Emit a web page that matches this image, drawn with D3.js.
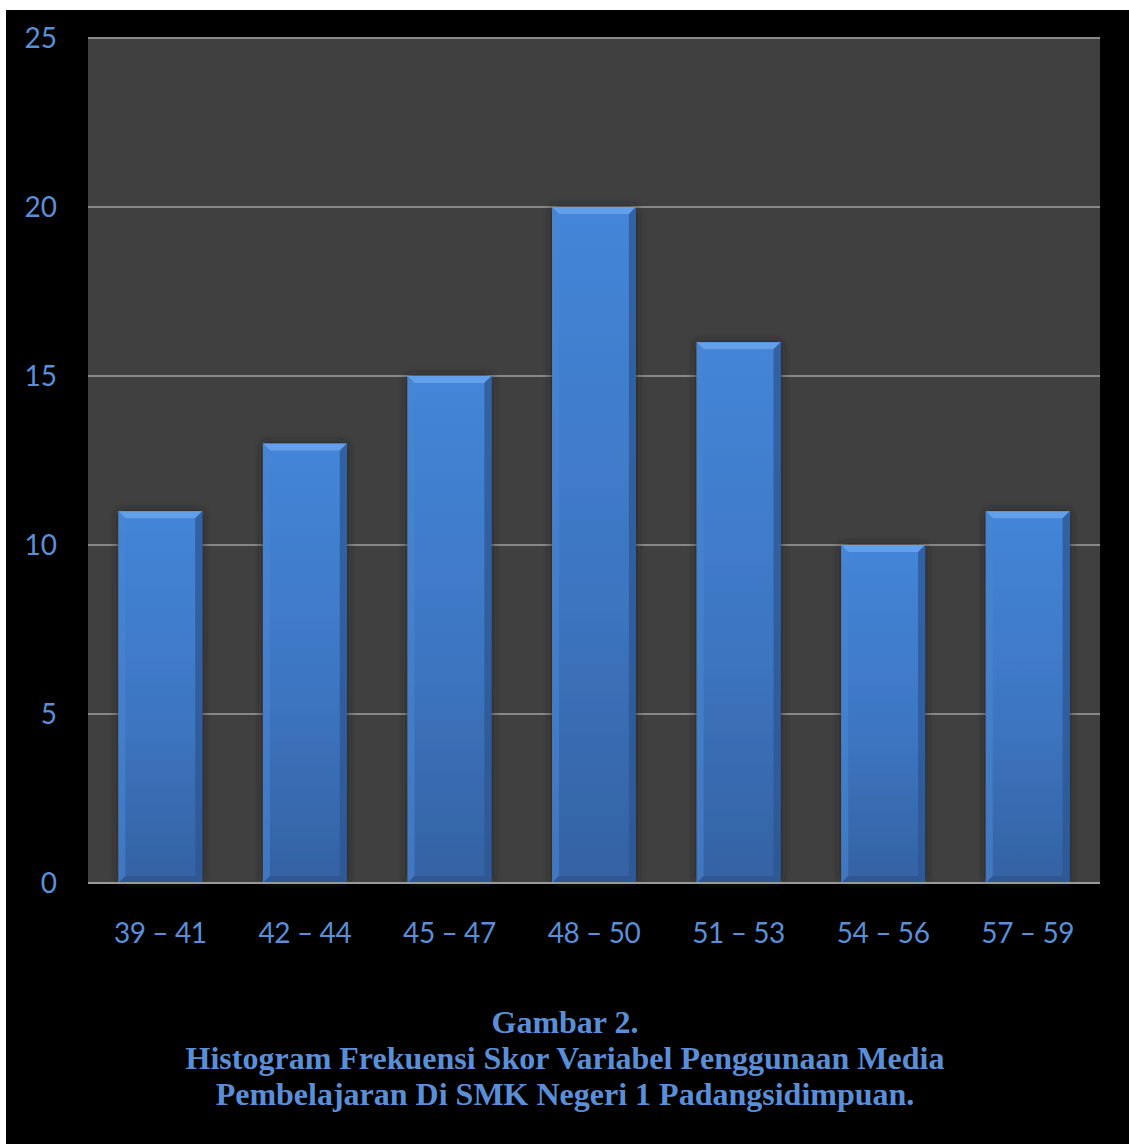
<!DOCTYPE html>
<html>
<head>
<meta charset="utf-8">
<script src="https://cdn.jsdelivr.net/npm/d3@7"></script>
<style>
  html, body { margin: 0; padding: 0; background: #ffffff; }
  svg { display: block; }
</style>
</head>
<body>
<script>
// Score intervals and their frequencies
const categories = ["39 – 41", "42 – 44", "45 – 47", "48 – 50", "51 – 53", "54 – 56", "57 – 59"];
const frequencies = [11, 13, 15, 20, 16, 10, 11];
const yTicks = [0, 5, 10, 15, 20, 25];
const captionLines = [
  "Gambar 2.",
  "Histogram Frekuensi Skor Variabel Penggunaan Media",
  "Pembelajaran Di SMK Negeri 1 Padangsidimpuan."
];

const W = 1129, H = 1144;
const plot = { left: 88, right: 1100, top: 38, bottom: 883 };
const blue = "#5a8fd8";

const svg = d3.select("body").append("svg").attr("width", W).attr("height", H);

// black panel with a thin white margin at top/left
svg.append("rect").attr("x", 0).attr("y", 0).attr("width", W).attr("height", H).attr("fill", "#ffffff");
svg.append("rect").attr("x", 6).attr("y", 10).attr("width", W - 6).attr("height", H - 10).attr("fill", "#000000");

const defs = svg.append("defs");
const grad = defs.append("linearGradient").attr("id", "barFill")
  .attr("x1", 0).attr("y1", 0).attr("x2", 0).attr("y2", 1);
grad.append("stop").attr("offset", "0%").attr("stop-color", "#4485d8");
grad.append("stop").attr("offset", "55%").attr("stop-color", "#3d76c2");
grad.append("stop").attr("offset", "100%").attr("stop-color", "#3462a3");

const shadow = defs.append("filter").attr("id", "barShadow")
  .attr("x", "-30%").attr("y", "-10%").attr("width", "160%").attr("height", "120%");
shadow.append("feGaussianBlur").attr("in", "SourceAlpha").attr("stdDeviation", 4).attr("result", "b");
shadow.append("feFlood").attr("flood-color", "#1e1e1e").attr("flood-opacity", 0.9);
shadow.append("feComposite").attr("in2", "b").attr("operator", "in").attr("result", "s");
const merge = shadow.append("feMerge");
merge.append("feMergeNode").attr("in", "s");
merge.append("feMergeNode").attr("in", "SourceGraphic");

const x = d3.scaleBand().domain(categories).range([plot.left, plot.right]).paddingInner(0.42).paddingOuter(0.21);
const y = d3.scaleLinear().domain([0, 25]).range([plot.bottom, plot.top]);

// plot background
svg.append("rect").attr("x", plot.left).attr("y", plot.top)
  .attr("width", plot.right - plot.left).attr("height", plot.bottom - plot.top)
  .attr("fill", "#404040");

// gridlines
svg.append("g").selectAll("line").data(yTicks.filter(d => d > 0)).join("line")
  .attr("x1", plot.left).attr("x2", plot.right)
  .attr("y1", d => y(d)).attr("y2", d => y(d))
  .attr("stroke", "#888888").attr("stroke-width", 2);

// bars with bevelled edges
const bars = svg.append("g").selectAll("g").data(frequencies).join("g")
  .attr("transform", (d, i) => `translate(${x(categories[i])},${y(d)})`);

const bw = x.bandwidth();
const bev = 7;
bars.append("rect")
  .attr("width", bw).attr("height", d => y(0) - y(d))
  .attr("fill", "url(#barFill)").attr("filter", "url(#barShadow)");
// top bevel
bars.append("path")
  .attr("d", `M0,0 L${bw},0 L${bw - bev},${bev} L${bev},${bev} Z`)
  .attr("fill", "#6aa4ec").attr("opacity", 0.85);
// left bevel
bars.append("path")
  .attr("d", d => { const h = y(0) - y(d); return `M0,0 L${bev},${bev} L${bev},${h - bev} L0,${h} Z`; })
  .attr("fill", "#4a86d2").attr("opacity", 0.6);
// right bevel
bars.append("path")
  .attr("d", d => { const h = y(0) - y(d); return `M${bw},0 L${bw - bev},${bev} L${bw - bev},${h - bev} L${bw},${h} Z`; })
  .attr("fill", "#2d5590").attr("opacity", 0.75);
// bottom bevel
bars.append("path")
  .attr("d", d => { const h = y(0) - y(d); return `M0,${h} L${bev},${h - bev} L${bw - bev},${h - bev} L${bw},${h} Z`; })
  .attr("fill", "#2b5088").attr("opacity", 0.6);

// baseline
svg.append("line").attr("x1", plot.left).attr("x2", plot.right)
  .attr("y1", y(0)).attr("y2", y(0)).attr("stroke", "#999999").attr("stroke-width", 2);

// y axis labels
const yAxis = d3.axisLeft(y).tickValues(yTicks).tickSize(0).tickPadding(0);
const gy = svg.append("g").attr("transform", `translate(57,0)`).call(yAxis);
gy.select(".domain").remove();
gy.selectAll("text").attr("fill", blue).attr("font-family", "Lato, 'Open Sans', sans-serif")
  .attr("font-size", 28).attr("dy", "0.35em");

// x axis labels
const xAxis = d3.axisBottom(x).tickSize(0).tickPadding(0);
const gx = svg.append("g").attr("transform", `translate(0,943)`).call(xAxis);
gx.select(".domain").remove();
gx.selectAll("text").attr("fill", blue).attr("font-family", "Lato, 'Open Sans', sans-serif")
  .attr("font-size", 28).attr("y", 0).attr("dy", 0).attr("letter-spacing", -0.4);

// caption
svg.append("g").selectAll("text").data(captionLines).join("text")
  .attr("x", 565).attr("y", (d, i) => 1033 + i * 36)
  .attr("text-anchor", "middle")
  .attr("fill", blue)
  .attr("font-family", "'Liberation Serif', 'Times New Roman', serif")
  .attr("font-weight", "bold").attr("font-size", 32)
  .text(d => d);
</script>
</body>
</html>
